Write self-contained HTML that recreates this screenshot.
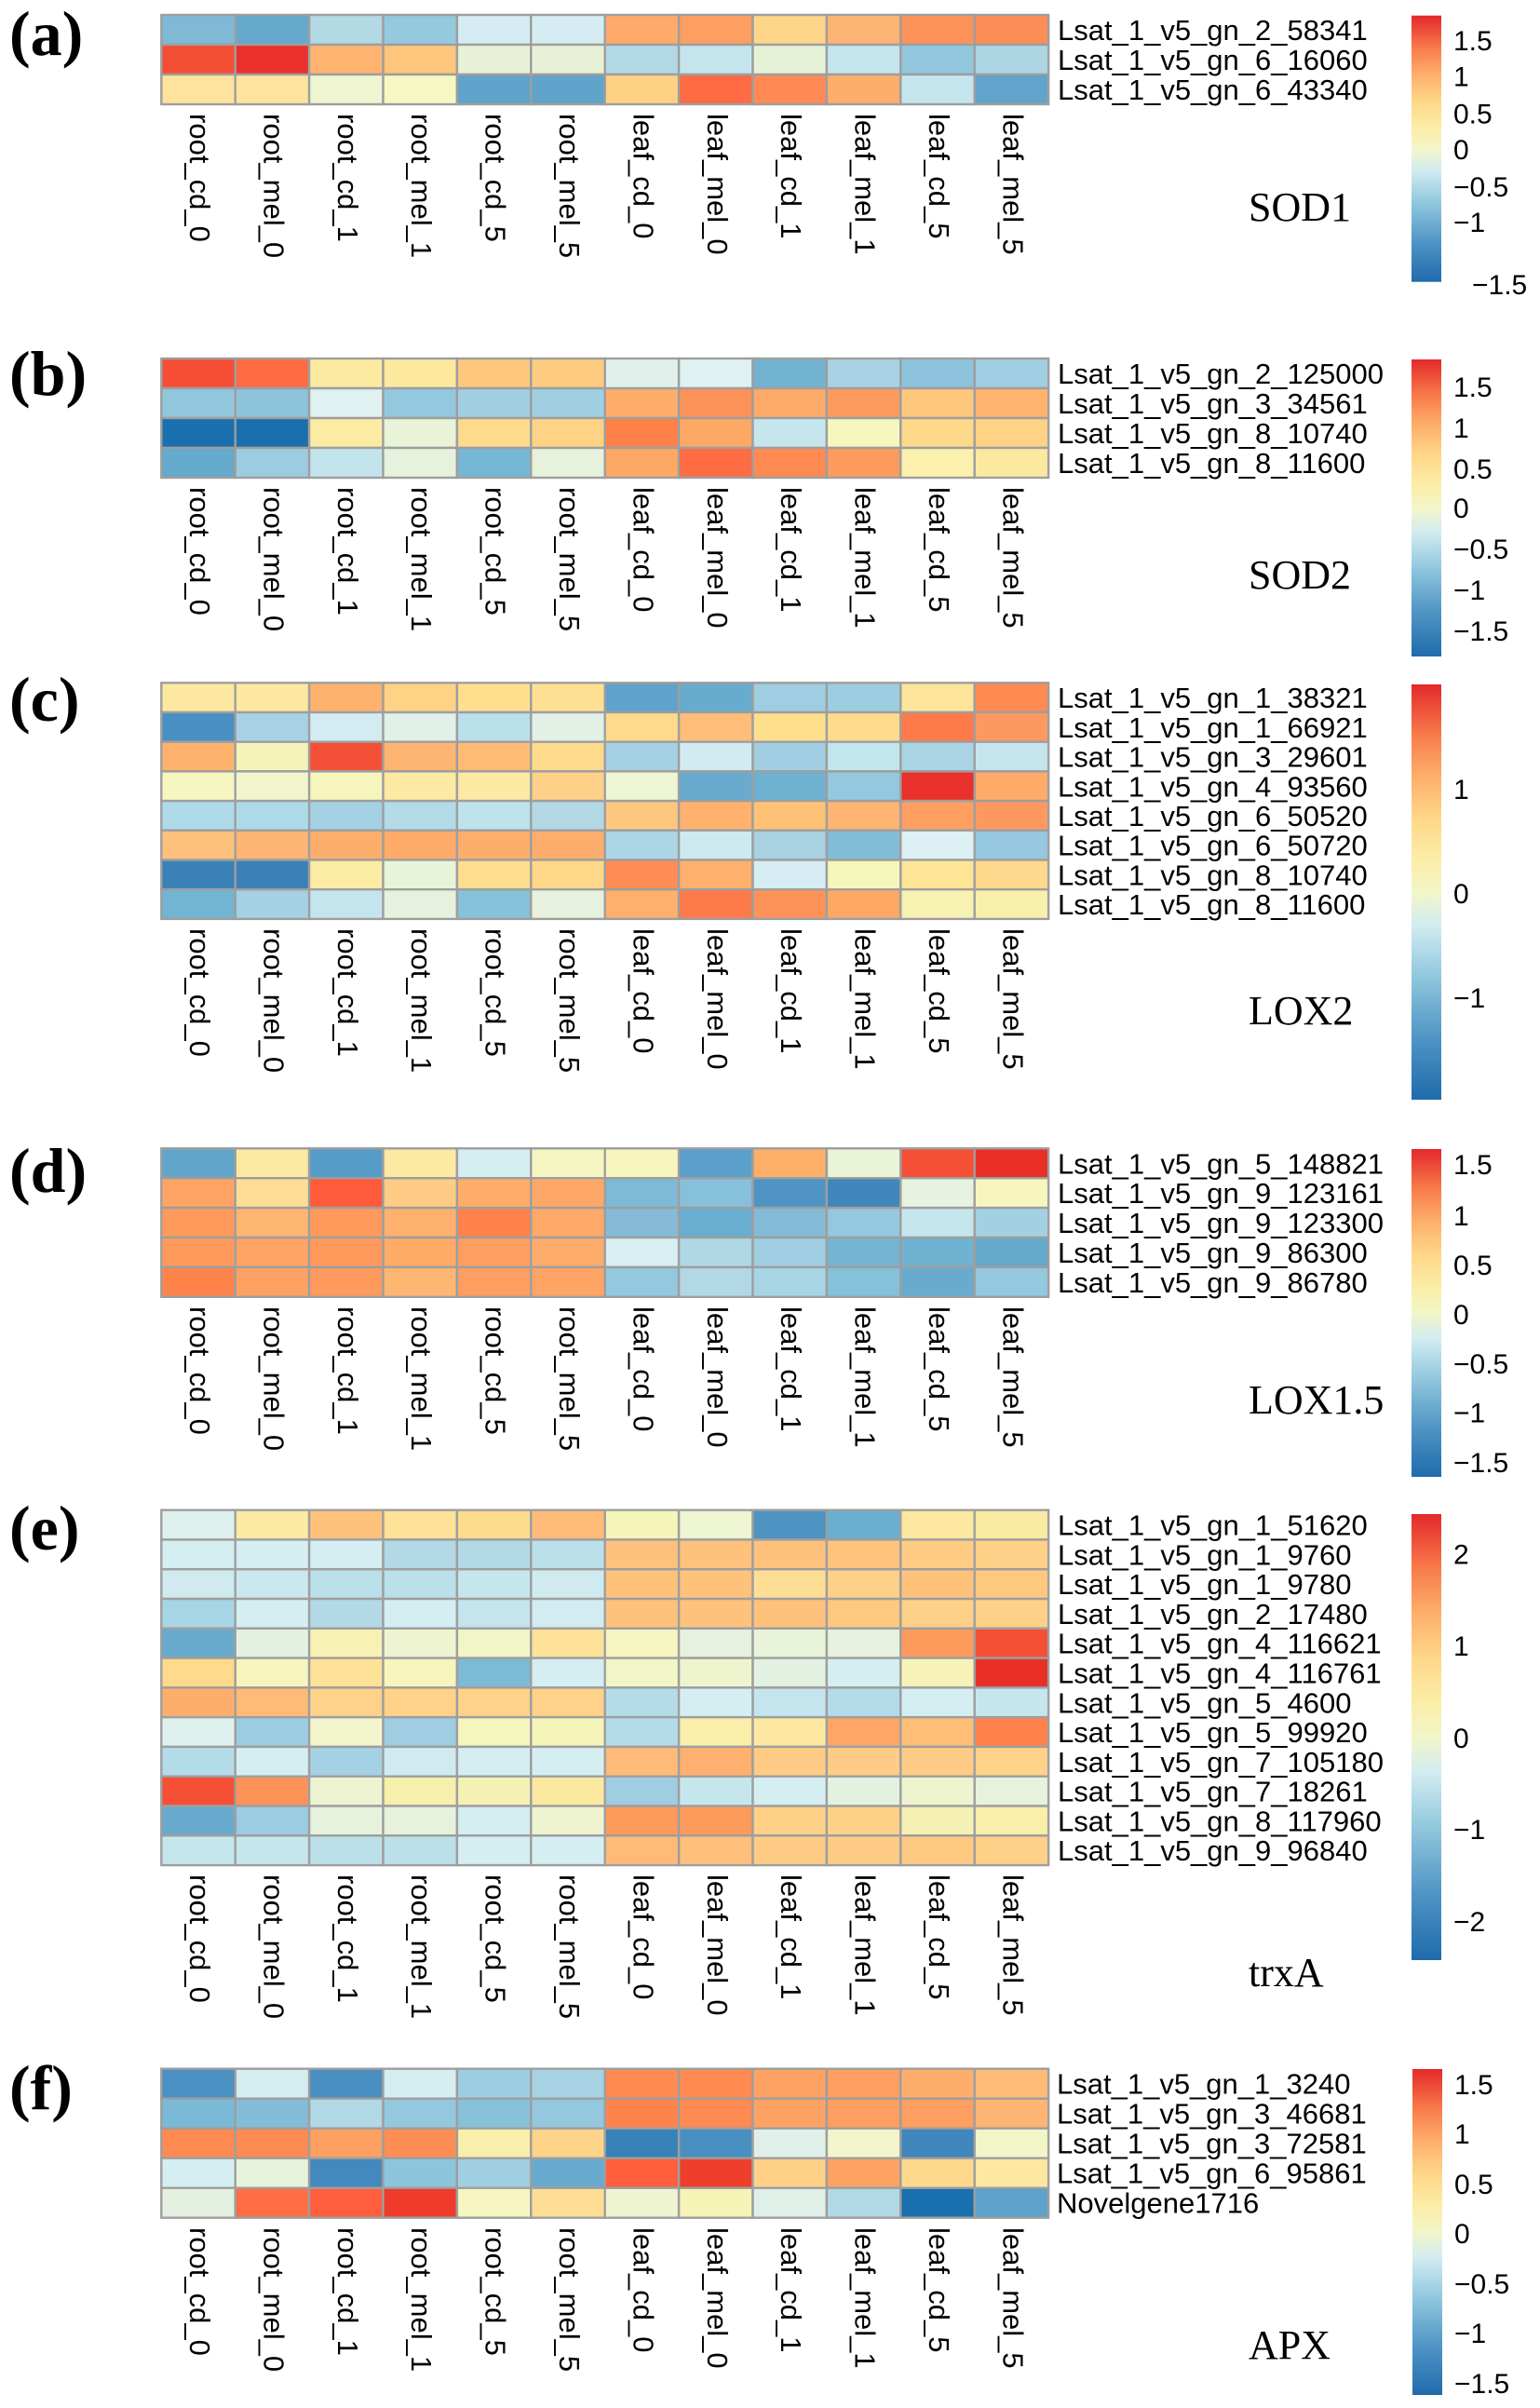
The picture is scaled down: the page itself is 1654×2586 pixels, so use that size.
<!DOCTYPE html>
<html><head><meta charset="utf-8"><style>
html,body{margin:0;padding:0;background:#fff;}
svg{display:block;}
.rl{font-family:"Liberation Sans",Arial,sans-serif;font-size:31px;fill:#000;}
.cl{font-family:"Liberation Sans",Arial,sans-serif;font-size:31px;fill:#000;}
.tk{font-family:"Liberation Sans",Arial,sans-serif;font-size:30px;fill:#000;}
.ti{font-family:"Liberation Serif","Times New Roman",serif;font-size:44px;fill:#000;}
.pl{font-family:"Liberation Serif","Times New Roman",serif;font-size:68px;font-weight:bold;fill:#000;}
</style></head><body>
<svg width="1654" height="2586" viewBox="0 0 1654 2586" xmlns="http://www.w3.org/2000/svg">
<defs>
<linearGradient id="cb" x1="0" y1="1" x2="0" y2="0">
<stop offset="0" stop-color="#1F6BAC"/>
<stop offset="0.15" stop-color="#4F95C5"/>
<stop offset="0.30" stop-color="#92C8DE"/>
<stop offset="0.42" stop-color="#D2ECF1"/>
<stop offset="0.50" stop-color="#F3F6C8"/>
<stop offset="0.58" stop-color="#FBEDA6"/>
<stop offset="0.68" stop-color="#FED688"/>
<stop offset="0.78" stop-color="#FDAE6B"/>
<stop offset="0.88" stop-color="#F87A4B"/>
<stop offset="1" stop-color="#E3292A"/>
</linearGradient>
</defs>
<rect width="1654" height="2586" fill="#fff"/>

<!-- panel labels -->
<text class="pl" x="10" y="59">(a)</text>
<text class="pl" x="10" y="424">(b)</text>
<text class="pl" x="10" y="774">(c)</text>
<text class="pl" x="10" y="1280">(d)</text>
<text class="pl" x="10" y="1664">(e)</text>
<text class="pl" x="10" y="2265">(f)</text>

<!-- ===== Panel a ===== -->
<g transform="translate(173.3,16)" stroke="#9E9E9E" stroke-width="2.4">
<g>
<rect x="0" width="79.4" height="32" fill="#7FB9D6"/><rect x="79.4" width="79.4" height="32" fill="#65A9CC"/><rect x="158.8" width="79.4" height="32" fill="#B3D9E5"/><rect x="238.2" width="79.4" height="32" fill="#94C9DE"/><rect x="317.6" width="79.4" height="32" fill="#D5EDF2"/><rect x="397" width="79.4" height="32" fill="#D5EDF2"/><rect x="476.4" width="79.4" height="32" fill="#FEAA6A"/><rect x="555.8" width="79.4" height="32" fill="#FD9F60"/><rect x="635.2" width="79.4" height="32" fill="#FED68A"/><rect x="714.6" width="79.4" height="32" fill="#FDB473"/><rect x="794" width="79.4" height="32" fill="#FD9259"/><rect x="873.4" width="79.4" height="32" fill="#FD8D57"/>
</g>
<g transform="translate(0,32)">
<rect x="0" width="79.4" height="32" fill="#F44E35"/><rect x="79.4" width="79.4" height="32" fill="#E9302A"/><rect x="158.8" width="79.4" height="32" fill="#FEB470"/><rect x="238.2" width="79.4" height="32" fill="#FEC57C"/><rect x="317.6" width="79.4" height="32" fill="#E8F1D6"/><rect x="397" width="79.4" height="32" fill="#E8F1D6"/><rect x="476.4" width="79.4" height="32" fill="#B2D8E5"/><rect x="555.8" width="79.4" height="32" fill="#C5E5EE"/><rect x="635.2" width="79.4" height="32" fill="#E6F2D6"/><rect x="714.6" width="79.4" height="32" fill="#C5E5EE"/><rect x="794" width="79.4" height="32" fill="#91C6DD"/><rect x="873.4" width="79.4" height="32" fill="#ADD6E5"/>
</g>
<g transform="translate(0,64)">
<rect x="0" width="79.4" height="32" fill="#FDE39C"/><rect x="79.4" width="79.4" height="32" fill="#FDE39C"/><rect x="158.8" width="79.4" height="32" fill="#EEF5D0"/><rect x="238.2" width="79.4" height="32" fill="#F7F7C2"/><rect x="317.6" width="79.4" height="32" fill="#60A3CB"/><rect x="397" width="79.4" height="32" fill="#60A3CB"/><rect x="476.4" width="79.4" height="32" fill="#FED185"/><rect x="555.8" width="79.4" height="32" fill="#FF6B42"/><rect x="635.2" width="79.4" height="32" fill="#FF8A55"/><rect x="714.6" width="79.4" height="32" fill="#FDAD6C"/><rect x="794" width="79.4" height="32" fill="#C5E5EE"/><rect x="873.4" width="79.4" height="32" fill="#62A4CC"/>
</g>
</g>
<g class="rl">
<text x="1136" y="43">Lsat_1_v5_gn_2_58341</text>
<text x="1136" y="75">Lsat_1_v5_gn_6_16060</text>
<text x="1136" y="107">Lsat_1_v5_gn_6_43340</text>
</g>
<g class="cl">
<text transform="translate(204,122) rotate(90)">root_cd_0</text>
<text transform="translate(283.4,122) rotate(90)">root_mel_0</text>
<text transform="translate(362.8,122) rotate(90)">root_cd_1</text>
<text transform="translate(442.2,122) rotate(90)">root_mel_1</text>
<text transform="translate(521.6,122) rotate(90)">root_cd_5</text>
<text transform="translate(601,122) rotate(90)">root_mel_5</text>
<text transform="translate(680.4,122) rotate(90)">leaf_cd_0</text>
<text transform="translate(759.8,122) rotate(90)">leaf_mel_0</text>
<text transform="translate(839.2,122) rotate(90)">leaf_cd_1</text>
<text transform="translate(918.6,122) rotate(90)">leaf_mel_1</text>
<text transform="translate(998,122) rotate(90)">leaf_cd_5</text>
<text transform="translate(1077.4,122) rotate(90)">leaf_mel_5</text>
</g>
<text class="ti" x="1341" y="237">SOD1</text>
<rect x="1516" y="16.7" width="32" height="286" fill="url(#cb)"/>
<g class="tk">
<text x="1561" y="54">1.5</text>
<text x="1561" y="92.5">1</text>
<text x="1561" y="132.5">0.5</text>
<text x="1561" y="171">0</text>
<text x="1561" y="211">−0.5</text>
<text x="1561" y="249">−1</text>
<text x="1581" y="316">−1.5</text>
</g>

<!-- ===== Panel b ===== -->
<g transform="translate(173.3,385)" stroke="#9E9E9E" stroke-width="2.4">
<g>
<rect x="0" width="79.4" height="32" fill="#F54E35"/><rect x="79.4" width="79.4" height="32" fill="#FF6B42"/><rect x="158.8" width="79.4" height="32" fill="#FCEAA0"/><rect x="238.2" width="79.4" height="32" fill="#FCE99E"/><rect x="317.6" width="79.4" height="32" fill="#FEC77E"/><rect x="397" width="79.4" height="32" fill="#FECC80"/><rect x="476.4" width="79.4" height="32" fill="#E2F0EB"/><rect x="555.8" width="79.4" height="32" fill="#DFF1F1"/><rect x="635.2" width="79.4" height="32" fill="#72B3D2"/><rect x="714.6" width="79.4" height="32" fill="#A8D3E4"/><rect x="794" width="79.4" height="32" fill="#8DC3DC"/><rect x="873.4" width="79.4" height="32" fill="#A0CEE2"/>
</g>
<g transform="translate(0,32)">
<rect x="0" width="79.4" height="32" fill="#91C7DD"/><rect x="79.4" width="79.4" height="32" fill="#8DC4DC"/><rect x="158.8" width="79.4" height="32" fill="#DFF1F1"/><rect x="238.2" width="79.4" height="32" fill="#93C9DE"/><rect x="317.6" width="79.4" height="32" fill="#A1CFE2"/><rect x="397" width="79.4" height="32" fill="#A1CFE2"/><rect x="476.4" width="79.4" height="32" fill="#FEAD6A"/><rect x="555.8" width="79.4" height="32" fill="#FD9259"/><rect x="635.2" width="79.4" height="32" fill="#FEAA68"/><rect x="714.6" width="79.4" height="32" fill="#FD9B5E"/><rect x="794" width="79.4" height="32" fill="#FEC77E"/><rect x="873.4" width="79.4" height="32" fill="#FEB46F"/>
</g>
<g transform="translate(0,64)">
<rect x="0" width="79.4" height="32" fill="#1A6FAE"/><rect x="79.4" width="79.4" height="32" fill="#1A6FAE"/><rect x="158.8" width="79.4" height="32" fill="#FCEBA2"/><rect x="238.2" width="79.4" height="32" fill="#E8F3D8"/><rect x="317.6" width="79.4" height="32" fill="#FDDA8C"/><rect x="397" width="79.4" height="32" fill="#FED385"/><rect x="476.4" width="79.4" height="32" fill="#FF8148"/><rect x="555.8" width="79.4" height="32" fill="#FEA865"/><rect x="635.2" width="79.4" height="32" fill="#C6E6EE"/><rect x="714.6" width="79.4" height="32" fill="#F5F7BE"/><rect x="794" width="79.4" height="32" fill="#FDD889"/><rect x="873.4" width="79.4" height="32" fill="#FED385"/>
</g>
<g transform="translate(0,96)">
<rect x="0" width="79.4" height="32" fill="#65A9CC"/><rect x="79.4" width="79.4" height="32" fill="#9DCCE1"/><rect x="158.8" width="79.4" height="32" fill="#C3E4ED"/><rect x="238.2" width="79.4" height="32" fill="#E6F2DC"/><rect x="317.6" width="79.4" height="32" fill="#75B7D4"/><rect x="397" width="79.4" height="32" fill="#E6F2DC"/><rect x="476.4" width="79.4" height="32" fill="#FEA865"/><rect x="555.8" width="79.4" height="32" fill="#FF6B42"/><rect x="635.2" width="79.4" height="32" fill="#FF8B52"/><rect x="714.6" width="79.4" height="32" fill="#FD9B5E"/><rect x="794" width="79.4" height="32" fill="#FBF0AE"/><rect x="873.4" width="79.4" height="32" fill="#FBE9A0"/>
</g>
</g>
<g class="rl">
<text x="1136" y="412">Lsat_1_v5_gn_2_125000</text>
<text x="1136" y="444">Lsat_1_v5_gn_3_34561</text>
<text x="1136" y="476">Lsat_1_v5_gn_8_10740</text>
<text x="1136" y="508">Lsat_1_v5_gn_8_11600</text>
</g>
<g class="cl">
<text transform="translate(204,523) rotate(90)">root_cd_0</text>
<text transform="translate(283.4,523) rotate(90)">root_mel_0</text>
<text transform="translate(362.8,523) rotate(90)">root_cd_1</text>
<text transform="translate(442.2,523) rotate(90)">root_mel_1</text>
<text transform="translate(521.6,523) rotate(90)">root_cd_5</text>
<text transform="translate(601,523) rotate(90)">root_mel_5</text>
<text transform="translate(680.4,523) rotate(90)">leaf_cd_0</text>
<text transform="translate(759.8,523) rotate(90)">leaf_mel_0</text>
<text transform="translate(839.2,523) rotate(90)">leaf_cd_1</text>
<text transform="translate(918.6,523) rotate(90)">leaf_mel_1</text>
<text transform="translate(998,523) rotate(90)">leaf_cd_5</text>
<text transform="translate(1077.4,523) rotate(90)">leaf_mel_5</text>
</g>
<text class="ti" x="1341" y="632">SOD2</text>
<rect x="1516" y="386" width="32" height="319" fill="url(#cb)"/>
<g class="tk">
<text x="1561" y="426">1.5</text>
<text x="1561" y="470">1</text>
<text x="1561" y="514">0.5</text>
<text x="1561" y="556">0</text>
<text x="1561" y="600">−0.5</text>
<text x="1561" y="644">−1</text>
<text x="1561" y="688">−1.5</text>
</g>

<!-- ===== Panel c ===== -->
<g transform="translate(173.3,733.3)" stroke="#9E9E9E" stroke-width="2.4">
<g>
<rect x="0" width="79.4" height="31.7" fill="#FCE8A0"/><rect x="79.4" width="79.4" height="31.7" fill="#FCE8A0"/><rect x="158.8" width="79.4" height="31.7" fill="#FEB26E"/><rect x="238.2" width="79.4" height="31.7" fill="#FED385"/><rect x="317.6" width="79.4" height="31.7" fill="#FDDF8E"/><rect x="397" width="79.4" height="31.7" fill="#FDE092"/><rect x="476.4" width="79.4" height="31.7" fill="#5FA3CB"/><rect x="555.8" width="79.4" height="31.7" fill="#67ABCE"/><rect x="635.2" width="79.4" height="31.7" fill="#9FCDE2"/><rect x="714.6" width="79.4" height="31.7" fill="#9DCDE1"/><rect x="794" width="79.4" height="31.7" fill="#FCE59A"/><rect x="873.4" width="79.4" height="31.7" fill="#FF8B52"/>
</g>
<g transform="translate(0,31.7)">
<rect x="0" width="79.4" height="31.7" fill="#4A8FC1"/><rect x="79.4" width="79.4" height="31.7" fill="#A7D2E5"/><rect x="158.8" width="79.4" height="31.7" fill="#D3ECF1"/><rect x="238.2" width="79.4" height="31.7" fill="#E1F0E8"/><rect x="317.6" width="79.4" height="31.7" fill="#BAE0EB"/><rect x="397" width="79.4" height="31.7" fill="#E2F0E6"/><rect x="476.4" width="79.4" height="31.7" fill="#FEDA8C"/><rect x="555.8" width="79.4" height="31.7" fill="#FEBE79"/><rect x="635.2" width="79.4" height="31.7" fill="#FDDF8E"/><rect x="714.6" width="79.4" height="31.7" fill="#FEDA8C"/><rect x="794" width="79.4" height="31.7" fill="#FF7A4A"/><rect x="873.4" width="79.4" height="31.7" fill="#FD9960"/>
</g>
<g transform="translate(0,63.4)">
<rect x="0" width="79.4" height="31.7" fill="#FEB26E"/><rect x="79.4" width="79.4" height="31.7" fill="#F5F4B8"/><rect x="158.8" width="79.4" height="31.7" fill="#F55037"/><rect x="238.2" width="79.4" height="31.7" fill="#FEB472"/><rect x="317.6" width="79.4" height="31.7" fill="#FEBB76"/><rect x="397" width="79.4" height="31.7" fill="#FEDA8C"/><rect x="476.4" width="79.4" height="31.7" fill="#A5D1E4"/><rect x="555.8" width="79.4" height="31.7" fill="#D0EBF1"/><rect x="635.2" width="79.4" height="31.7" fill="#A1CEE2"/><rect x="714.6" width="79.4" height="31.7" fill="#C3E5EE"/><rect x="794" width="79.4" height="31.7" fill="#ABD4E5"/><rect x="873.4" width="79.4" height="31.7" fill="#C5E5EE"/>
</g>
<g transform="translate(0,95.1)">
<rect x="0" width="79.4" height="31.7" fill="#F5F6C0"/><rect x="79.4" width="79.4" height="31.7" fill="#F2F5CC"/><rect x="158.8" width="79.4" height="31.7" fill="#F5F5BC"/><rect x="238.2" width="79.4" height="31.7" fill="#FCEAA2"/><rect x="317.6" width="79.4" height="31.7" fill="#FCE9A2"/><rect x="397" width="79.4" height="31.7" fill="#FED088"/><rect x="476.4" width="79.4" height="31.7" fill="#EEF5D5"/><rect x="555.8" width="79.4" height="31.7" fill="#68ABCE"/><rect x="635.2" width="79.4" height="31.7" fill="#6EB1D1"/><rect x="714.6" width="79.4" height="31.7" fill="#93C8DE"/><rect x="794" width="79.4" height="31.7" fill="#E9302A"/><rect x="873.4" width="79.4" height="31.7" fill="#FEAA68"/>
</g>
<g transform="translate(0,126.8)">
<rect x="0" width="79.4" height="31.7" fill="#AEDAE7"/><rect x="79.4" width="79.4" height="31.7" fill="#AEDAE7"/><rect x="158.8" width="79.4" height="31.7" fill="#A4D1E4"/><rect x="238.2" width="79.4" height="31.7" fill="#B3DAE7"/><rect x="317.6" width="79.4" height="31.7" fill="#BEE3ED"/><rect x="397" width="79.4" height="31.7" fill="#B3D8E4"/><rect x="476.4" width="79.4" height="31.7" fill="#FEC77F"/><rect x="555.8" width="79.4" height="31.7" fill="#FEB26E"/><rect x="635.2" width="79.4" height="31.7" fill="#FEC277"/><rect x="714.6" width="79.4" height="31.7" fill="#FEB472"/><rect x="794" width="79.4" height="31.7" fill="#FE9E61"/><rect x="873.4" width="79.4" height="31.7" fill="#FD9960"/>
</g>
<g transform="translate(0,158.5)">
<rect x="0" width="79.4" height="31.7" fill="#FEC17C"/><rect x="79.4" width="79.4" height="31.7" fill="#FEB472"/><rect x="158.8" width="79.4" height="31.7" fill="#FEAE6C"/><rect x="238.2" width="79.4" height="31.7" fill="#FEAA68"/><rect x="317.6" width="79.4" height="31.7" fill="#FEAE6C"/><rect x="397" width="79.4" height="31.7" fill="#FEAE6C"/><rect x="476.4" width="79.4" height="31.7" fill="#ACD6E5"/><rect x="555.8" width="79.4" height="31.7" fill="#CCEAF0"/><rect x="635.2" width="79.4" height="31.7" fill="#A8D1E1"/><rect x="714.6" width="79.4" height="31.7" fill="#83BCD7"/><rect x="794" width="79.4" height="31.7" fill="#DDF0F3"/><rect x="873.4" width="79.4" height="31.7" fill="#95C8DE"/>
</g>
<g transform="translate(0,190.2)">
<rect x="0" width="79.4" height="31.7" fill="#3A81B7"/><rect x="79.4" width="79.4" height="31.7" fill="#3A81B7"/><rect x="158.8" width="79.4" height="31.7" fill="#FCEBA3"/><rect x="238.2" width="79.4" height="31.7" fill="#E8F3D8"/><rect x="317.6" width="79.4" height="31.7" fill="#FDDD8E"/><rect x="397" width="79.4" height="31.7" fill="#FED888"/><rect x="476.4" width="79.4" height="31.7" fill="#FF8D55"/><rect x="555.8" width="79.4" height="31.7" fill="#FEB06C"/><rect x="635.2" width="79.4" height="31.7" fill="#D5EDF3"/><rect x="714.6" width="79.4" height="31.7" fill="#F5F6B9"/><rect x="794" width="79.4" height="31.7" fill="#FDE595"/><rect x="873.4" width="79.4" height="31.7" fill="#FED88C"/>
</g>
<g transform="translate(0,221.9)">
<rect x="0" width="79.4" height="31.7" fill="#72B5D3"/><rect x="79.4" width="79.4" height="31.7" fill="#A4D1E4"/><rect x="158.8" width="79.4" height="31.7" fill="#C5E5EE"/><rect x="238.2" width="79.4" height="31.7" fill="#E6F2DD"/><rect x="317.6" width="79.4" height="31.7" fill="#87C1DA"/><rect x="397" width="79.4" height="31.7" fill="#E6F2DD"/><rect x="476.4" width="79.4" height="31.7" fill="#FEB06C"/><rect x="555.8" width="79.4" height="31.7" fill="#FF7A4A"/><rect x="635.2" width="79.4" height="31.7" fill="#FE9359"/><rect x="714.6" width="79.4" height="31.7" fill="#FEA865"/><rect x="794" width="79.4" height="31.7" fill="#F7F1B2"/><rect x="873.4" width="79.4" height="31.7" fill="#F9EFAD"/>
</g>
</g>
<g class="rl">
<text x="1136" y="760.2">Lsat_1_v5_gn_1_38321</text>
<text x="1136" y="791.9">Lsat_1_v5_gn_1_66921</text>
<text x="1136" y="823.6">Lsat_1_v5_gn_3_29601</text>
<text x="1136" y="855.3">Lsat_1_v5_gn_4_93560</text>
<text x="1136" y="887">Lsat_1_v5_gn_6_50520</text>
<text x="1136" y="918.7">Lsat_1_v5_gn_6_50720</text>
<text x="1136" y="950.4">Lsat_1_v5_gn_8_10740</text>
<text x="1136" y="982.1">Lsat_1_v5_gn_8_11600</text>
</g>
<g class="cl">
<text transform="translate(204,997) rotate(90)">root_cd_0</text>
<text transform="translate(283.4,997) rotate(90)">root_mel_0</text>
<text transform="translate(362.8,997) rotate(90)">root_cd_1</text>
<text transform="translate(442.2,997) rotate(90)">root_mel_1</text>
<text transform="translate(521.6,997) rotate(90)">root_cd_5</text>
<text transform="translate(601,997) rotate(90)">root_mel_5</text>
<text transform="translate(680.4,997) rotate(90)">leaf_cd_0</text>
<text transform="translate(759.8,997) rotate(90)">leaf_mel_0</text>
<text transform="translate(839.2,997) rotate(90)">leaf_cd_1</text>
<text transform="translate(918.6,997) rotate(90)">leaf_mel_1</text>
<text transform="translate(998,997) rotate(90)">leaf_cd_5</text>
<text transform="translate(1077.4,997) rotate(90)">leaf_mel_5</text>
</g>
<text class="ti" x="1341" y="1100">LOX2</text>
<rect x="1516" y="735" width="32" height="446" fill="url(#cb)"/>
<g class="tk">
<text x="1561" y="858">1</text>
<text x="1561" y="970">0</text>
<text x="1561" y="1082">−1</text>
</g>

<!-- ===== Panel d ===== -->
<g transform="translate(173.3,1233.3)" stroke="#9E9E9E" stroke-width="2.4">
<g>
<rect x="0" width="79.4" height="31.9" fill="#62A5CB"/><rect x="79.4" width="79.4" height="31.9" fill="#FCE9A2"/><rect x="158.8" width="79.4" height="31.9" fill="#559DC8"/><rect x="238.2" width="79.4" height="31.9" fill="#FCEAA2"/><rect x="317.6" width="79.4" height="31.9" fill="#D5EEF2"/><rect x="397" width="79.4" height="31.9" fill="#F5F5C2"/><rect x="476.4" width="79.4" height="31.9" fill="#F7F5BE"/><rect x="555.8" width="79.4" height="31.9" fill="#5BA0CA"/><rect x="635.2" width="79.4" height="31.9" fill="#FEAF6A"/><rect x="714.6" width="79.4" height="31.9" fill="#EAF4D6"/><rect x="794" width="79.4" height="31.9" fill="#F54F35"/><rect x="873.4" width="79.4" height="31.9" fill="#E83027"/>
</g>
<g transform="translate(0,31.9)">
<rect x="0" width="79.4" height="31.9" fill="#FEA465"/><rect x="79.4" width="79.4" height="31.9" fill="#FEDE94"/><rect x="158.8" width="79.4" height="31.9" fill="#FF5A3A"/><rect x="238.2" width="79.4" height="31.9" fill="#FECC84"/><rect x="317.6" width="79.4" height="31.9" fill="#FEAD6A"/><rect x="397" width="79.4" height="31.9" fill="#FEA868"/><rect x="476.4" width="79.4" height="31.9" fill="#7EB9D6"/><rect x="555.8" width="79.4" height="31.9" fill="#86C0DA"/><rect x="635.2" width="79.4" height="31.9" fill="#4F94C4"/><rect x="714.6" width="79.4" height="31.9" fill="#3F87BC"/><rect x="794" width="79.4" height="31.9" fill="#E7F2E0"/><rect x="873.4" width="79.4" height="31.9" fill="#F7F6BE"/>
</g>
<g transform="translate(0,63.8)">
<rect x="0" width="79.4" height="31.9" fill="#FF9A5C"/><rect x="79.4" width="79.4" height="31.9" fill="#FEB673"/><rect x="158.8" width="79.4" height="31.9" fill="#FF9A5C"/><rect x="238.2" width="79.4" height="31.9" fill="#FEB06E"/><rect x="317.6" width="79.4" height="31.9" fill="#FF824C"/><rect x="397" width="79.4" height="31.9" fill="#FEA968"/><rect x="476.4" width="79.4" height="31.9" fill="#86BBD8"/><rect x="555.8" width="79.4" height="31.9" fill="#69AED0"/><rect x="635.2" width="79.4" height="31.9" fill="#83BAD7"/><rect x="714.6" width="79.4" height="31.9" fill="#93C8DE"/><rect x="794" width="79.4" height="31.9" fill="#C6E6EE"/><rect x="873.4" width="79.4" height="31.9" fill="#A4D0E4"/>
</g>
<g transform="translate(0,95.7)">
<rect x="0" width="79.4" height="31.9" fill="#FF9A5C"/><rect x="79.4" width="79.4" height="31.9" fill="#FEA465"/><rect x="158.8" width="79.4" height="31.9" fill="#FF9A5C"/><rect x="238.2" width="79.4" height="31.9" fill="#FEAB68"/><rect x="317.6" width="79.4" height="31.9" fill="#FE9E60"/><rect x="397" width="79.4" height="31.9" fill="#FEAC6A"/><rect x="476.4" width="79.4" height="31.9" fill="#D8EEF2"/><rect x="555.8" width="79.4" height="31.9" fill="#B0D7E5"/><rect x="635.2" width="79.4" height="31.9" fill="#9FCDE2"/><rect x="714.6" width="79.4" height="31.9" fill="#74B4D2"/><rect x="794" width="79.4" height="31.9" fill="#70B2D1"/><rect x="873.4" width="79.4" height="31.9" fill="#65A9CC"/>
</g>
<g transform="translate(0,127.6)">
<rect x="0" width="79.4" height="31.9" fill="#FF844C"/><rect x="79.4" width="79.4" height="31.9" fill="#FEA263"/><rect x="158.8" width="79.4" height="31.9" fill="#FE9A5E"/><rect x="238.2" width="79.4" height="31.9" fill="#FEB673"/><rect x="317.6" width="79.4" height="31.9" fill="#FE9E60"/><rect x="397" width="79.4" height="31.9" fill="#FEA465"/><rect x="476.4" width="79.4" height="31.9" fill="#93C8DE"/><rect x="555.8" width="79.4" height="31.9" fill="#B2D8E6"/><rect x="635.2" width="79.4" height="31.9" fill="#A8D5E5"/><rect x="714.6" width="79.4" height="31.9" fill="#86C1DA"/><rect x="794" width="79.4" height="31.9" fill="#69ABCE"/><rect x="873.4" width="79.4" height="31.9" fill="#93C8DE"/>
</g>
</g>
<g class="rl">
<text x="1136" y="1260.3">Lsat_1_v5_gn_5_148821</text>
<text x="1136" y="1292.2">Lsat_1_v5_gn_9_123161</text>
<text x="1136" y="1324.1">Lsat_1_v5_gn_9_123300</text>
<text x="1136" y="1356">Lsat_1_v5_gn_9_86300</text>
<text x="1136" y="1387.9">Lsat_1_v5_gn_9_86780</text>
</g>
<g class="cl">
<text transform="translate(204,1403) rotate(90)">root_cd_0</text>
<text transform="translate(283.4,1403) rotate(90)">root_mel_0</text>
<text transform="translate(362.8,1403) rotate(90)">root_cd_1</text>
<text transform="translate(442.2,1403) rotate(90)">root_mel_1</text>
<text transform="translate(521.6,1403) rotate(90)">root_cd_5</text>
<text transform="translate(601,1403) rotate(90)">root_mel_5</text>
<text transform="translate(680.4,1403) rotate(90)">leaf_cd_0</text>
<text transform="translate(759.8,1403) rotate(90)">leaf_mel_0</text>
<text transform="translate(839.2,1403) rotate(90)">leaf_cd_1</text>
<text transform="translate(918.6,1403) rotate(90)">leaf_mel_1</text>
<text transform="translate(998,1403) rotate(90)">leaf_cd_5</text>
<text transform="translate(1077.4,1403) rotate(90)">leaf_mel_5</text>
</g>
<text class="ti" x="1341" y="1518">LOX1.5</text>
<rect x="1516" y="1234" width="32" height="352" fill="url(#cb)"/>
<g class="tk">
<text x="1561" y="1261">1.5</text>
<text x="1561" y="1316">1</text>
<text x="1561" y="1369">0.5</text>
<text x="1561" y="1422">0</text>
<text x="1561" y="1475">−0.5</text>
<text x="1561" y="1527.5">−1</text>
<text x="1561" y="1581">−1.5</text>
</g>

<!-- ===== Panel e ===== -->
<g transform="translate(173.3,1621.7)" stroke="#9E9E9E" stroke-width="2.4">
<g>
<rect x="0" width="79.4" height="31.78" fill="#DFF1EE"/><rect x="79.4" width="79.4" height="31.78" fill="#FCE9A2"/><rect x="158.8" width="79.4" height="31.78" fill="#FEC27C"/><rect x="238.2" width="79.4" height="31.78" fill="#FDE298"/><rect x="317.6" width="79.4" height="31.78" fill="#FDDC8E"/><rect x="397" width="79.4" height="31.78" fill="#FEBC78"/><rect x="476.4" width="79.4" height="31.78" fill="#F5F5BA"/><rect x="555.8" width="79.4" height="31.78" fill="#EEF5D2"/><rect x="635.2" width="79.4" height="31.78" fill="#4D94C3"/><rect x="714.6" width="79.4" height="31.78" fill="#6AAFD0"/><rect x="794" width="79.4" height="31.78" fill="#FCE8A0"/><rect x="873.4" width="79.4" height="31.78" fill="#FBEAA2"/>
</g>
<g transform="translate(0,31.78)">
<rect x="0" width="79.4" height="31.78" fill="#D5EEF1"/><rect x="79.4" width="79.4" height="31.78" fill="#D5EEF1"/><rect x="158.8" width="79.4" height="31.78" fill="#D5EEF1"/><rect x="238.2" width="79.4" height="31.78" fill="#B2D9E5"/><rect x="317.6" width="79.4" height="31.78" fill="#B2D9E5"/><rect x="397" width="79.4" height="31.78" fill="#BCE0EA"/><rect x="476.4" width="79.4" height="31.78" fill="#FEC27C"/><rect x="555.8" width="79.4" height="31.78" fill="#FEC27C"/><rect x="635.2" width="79.4" height="31.78" fill="#FEC27C"/><rect x="714.6" width="79.4" height="31.78" fill="#FEC47E"/><rect x="794" width="79.4" height="31.78" fill="#FECC84"/><rect x="873.4" width="79.4" height="31.78" fill="#FED088"/>
</g>
<g transform="translate(0,63.56)">
<rect x="0" width="79.4" height="31.78" fill="#CFEBF0"/><rect x="79.4" width="79.4" height="31.78" fill="#CAE8EF"/><rect x="158.8" width="79.4" height="31.78" fill="#BAE0EA"/><rect x="238.2" width="79.4" height="31.78" fill="#BAE0EA"/><rect x="317.6" width="79.4" height="31.78" fill="#C6E6EE"/><rect x="397" width="79.4" height="31.78" fill="#CFEBF0"/><rect x="476.4" width="79.4" height="31.78" fill="#FEC27C"/><rect x="555.8" width="79.4" height="31.78" fill="#FEC27C"/><rect x="635.2" width="79.4" height="31.78" fill="#FEDE94"/><rect x="714.6" width="79.4" height="31.78" fill="#FED088"/><rect x="794" width="79.4" height="31.78" fill="#FEC27C"/><rect x="873.4" width="79.4" height="31.78" fill="#FEC87E"/>
</g>
<g transform="translate(0,95.34)">
<rect x="0" width="79.4" height="31.78" fill="#A8D5E5"/><rect x="79.4" width="79.4" height="31.78" fill="#D5EEF2"/><rect x="158.8" width="79.4" height="31.78" fill="#B2D9E5"/><rect x="238.2" width="79.4" height="31.78" fill="#D5EEF2"/><rect x="317.6" width="79.4" height="31.78" fill="#C4E4EE"/><rect x="397" width="79.4" height="31.78" fill="#D2ECF1"/><rect x="476.4" width="79.4" height="31.78" fill="#FEC27C"/><rect x="555.8" width="79.4" height="31.78" fill="#FEC27C"/><rect x="635.2" width="79.4" height="31.78" fill="#FEC27C"/><rect x="714.6" width="79.4" height="31.78" fill="#FEC87E"/><rect x="794" width="79.4" height="31.78" fill="#FED088"/><rect x="873.4" width="79.4" height="31.78" fill="#FED088"/>
</g>
<g transform="translate(0,127.12)">
<rect x="0" width="79.4" height="31.78" fill="#69ABCE"/><rect x="79.4" width="79.4" height="31.78" fill="#E3F1E2"/><rect x="158.8" width="79.4" height="31.78" fill="#F7F1B4"/><rect x="238.2" width="79.4" height="31.78" fill="#EEF4D2"/><rect x="317.6" width="79.4" height="31.78" fill="#F2F5C6"/><rect x="397" width="79.4" height="31.78" fill="#FDE298"/><rect x="476.4" width="79.4" height="31.78" fill="#F5F5C0"/><rect x="555.8" width="79.4" height="31.78" fill="#E6F2DE"/><rect x="635.2" width="79.4" height="31.78" fill="#E8F3DA"/><rect x="714.6" width="79.4" height="31.78" fill="#E6F2DE"/><rect x="794" width="79.4" height="31.78" fill="#FE9A5C"/><rect x="873.4" width="79.4" height="31.78" fill="#F54F35"/>
</g>
<g transform="translate(0,158.9)">
<rect x="0" width="79.4" height="31.78" fill="#FEDA8C"/><rect x="79.4" width="79.4" height="31.78" fill="#F5F5BC"/><rect x="158.8" width="79.4" height="31.78" fill="#FDE298"/><rect x="238.2" width="79.4" height="31.78" fill="#F5F5BC"/><rect x="317.6" width="79.4" height="31.78" fill="#7DBAD6"/><rect x="397" width="79.4" height="31.78" fill="#D5EEF2"/><rect x="476.4" width="79.4" height="31.78" fill="#F2F5C6"/><rect x="555.8" width="79.4" height="31.78" fill="#EEF4CE"/><rect x="635.2" width="79.4" height="31.78" fill="#E3F1E2"/><rect x="714.6" width="79.4" height="31.78" fill="#D5EEF2"/><rect x="794" width="79.4" height="31.78" fill="#F7F3B8"/><rect x="873.4" width="79.4" height="31.78" fill="#E83027"/>
</g>
<g transform="translate(0,190.68)">
<rect x="0" width="79.4" height="31.78" fill="#FEAE6C"/><rect x="79.4" width="79.4" height="31.78" fill="#FEBA76"/><rect x="158.8" width="79.4" height="31.78" fill="#FED288"/><rect x="238.2" width="79.4" height="31.78" fill="#FED288"/><rect x="317.6" width="79.4" height="31.78" fill="#FED288"/><rect x="397" width="79.4" height="31.78" fill="#FED288"/><rect x="476.4" width="79.4" height="31.78" fill="#B4DBE8"/><rect x="555.8" width="79.4" height="31.78" fill="#D5EEF2"/><rect x="635.2" width="79.4" height="31.78" fill="#C4E4EE"/><rect x="714.6" width="79.4" height="31.78" fill="#B4DBE8"/><rect x="794" width="79.4" height="31.78" fill="#D5EEF2"/><rect x="873.4" width="79.4" height="31.78" fill="#C6E6EE"/>
</g>
<g transform="translate(0,222.46)">
<rect x="0" width="79.4" height="31.78" fill="#DFF1EE"/><rect x="79.4" width="79.4" height="31.78" fill="#9BCCE2"/><rect x="158.8" width="79.4" height="31.78" fill="#F2F5CC"/><rect x="238.2" width="79.4" height="31.78" fill="#9FCDE2"/><rect x="317.6" width="79.4" height="31.78" fill="#F5F5BE"/><rect x="397" width="79.4" height="31.78" fill="#F5F5BA"/><rect x="476.4" width="79.4" height="31.78" fill="#B4DBE8"/><rect x="555.8" width="79.4" height="31.78" fill="#F9EEAA"/><rect x="635.2" width="79.4" height="31.78" fill="#FCE8A0"/><rect x="714.6" width="79.4" height="31.78" fill="#FEA667"/><rect x="794" width="79.4" height="31.78" fill="#FEBE78"/><rect x="873.4" width="79.4" height="31.78" fill="#FF824C"/>
</g>
<g transform="translate(0,254.24)">
<rect x="0" width="79.4" height="31.78" fill="#B4DBE8"/><rect x="79.4" width="79.4" height="31.78" fill="#D5EEF2"/><rect x="158.8" width="79.4" height="31.78" fill="#A4D1E4"/><rect x="238.2" width="79.4" height="31.78" fill="#CFEBF0"/><rect x="317.6" width="79.4" height="31.78" fill="#D5EEF2"/><rect x="397" width="79.4" height="31.78" fill="#D5EEF2"/><rect x="476.4" width="79.4" height="31.78" fill="#FEBA76"/><rect x="555.8" width="79.4" height="31.78" fill="#FEB06E"/><rect x="635.2" width="79.4" height="31.78" fill="#FECC84"/><rect x="714.6" width="79.4" height="31.78" fill="#FECC84"/><rect x="794" width="79.4" height="31.78" fill="#FECC84"/><rect x="873.4" width="79.4" height="31.78" fill="#FED288"/>
</g>
<g transform="translate(0,286.02)">
<rect x="0" width="79.4" height="31.78" fill="#F54F35"/><rect x="79.4" width="79.4" height="31.78" fill="#FE9358"/><rect x="158.8" width="79.4" height="31.78" fill="#EEF4D2"/><rect x="238.2" width="79.4" height="31.78" fill="#F7EFAC"/><rect x="317.6" width="79.4" height="31.78" fill="#F5F1B4"/><rect x="397" width="79.4" height="31.78" fill="#FBE9A0"/><rect x="476.4" width="79.4" height="31.78" fill="#A0CDE2"/><rect x="555.8" width="79.4" height="31.78" fill="#C6E6EE"/><rect x="635.2" width="79.4" height="31.78" fill="#D5EEF2"/><rect x="714.6" width="79.4" height="31.78" fill="#E3F1E0"/><rect x="794" width="79.4" height="31.78" fill="#EEF4CE"/><rect x="873.4" width="79.4" height="31.78" fill="#E6F2DC"/>
</g>
<g transform="translate(0,317.8)">
<rect x="0" width="79.4" height="31.78" fill="#69ABCE"/><rect x="79.4" width="79.4" height="31.78" fill="#9BCCE2"/><rect x="158.8" width="79.4" height="31.78" fill="#E6F2DC"/><rect x="238.2" width="79.4" height="31.78" fill="#E6F2DC"/><rect x="317.6" width="79.4" height="31.78" fill="#D5EEF2"/><rect x="397" width="79.4" height="31.78" fill="#EEF4D0"/><rect x="476.4" width="79.4" height="31.78" fill="#FE9A5C"/><rect x="555.8" width="79.4" height="31.78" fill="#FE9A5C"/><rect x="635.2" width="79.4" height="31.78" fill="#FED088"/><rect x="714.6" width="79.4" height="31.78" fill="#FED088"/><rect x="794" width="79.4" height="31.78" fill="#F5F1B4"/><rect x="873.4" width="79.4" height="31.78" fill="#F9EEAA"/>
</g>
<g transform="translate(0,349.58)">
<rect x="0" width="79.4" height="31.78" fill="#C6E6EE"/><rect x="79.4" width="79.4" height="31.78" fill="#C6E6EE"/><rect x="158.8" width="79.4" height="31.78" fill="#BCE0EA"/><rect x="238.2" width="79.4" height="31.78" fill="#BCE0EA"/><rect x="317.6" width="79.4" height="31.78" fill="#D5EEF2"/><rect x="397" width="79.4" height="31.78" fill="#D5EEF2"/><rect x="476.4" width="79.4" height="31.78" fill="#FEBA76"/><rect x="555.8" width="79.4" height="31.78" fill="#FEC07A"/><rect x="635.2" width="79.4" height="31.78" fill="#FECC84"/><rect x="714.6" width="79.4" height="31.78" fill="#FECC84"/><rect x="794" width="79.4" height="31.78" fill="#FECA82"/><rect x="873.4" width="79.4" height="31.78" fill="#FED088"/>
</g>
</g>
<g class="rl">
<text x="1136" y="1648.6">Lsat_1_v5_gn_1_51620</text>
<text x="1136" y="1680.4">Lsat_1_v5_gn_1_9760</text>
<text x="1136" y="1712.1">Lsat_1_v5_gn_1_9780</text>
<text x="1136" y="1743.9">Lsat_1_v5_gn_2_17480</text>
<text x="1136" y="1775.7">Lsat_1_v5_gn_4_116621</text>
<text x="1136" y="1807.5">Lsat_1_v5_gn_4_116761</text>
<text x="1136" y="1839.3">Lsat_1_v5_gn_5_4600</text>
<text x="1136" y="1871.1">Lsat_1_v5_gn_5_99920</text>
<text x="1136" y="1902.9">Lsat_1_v5_gn_7_105180</text>
<text x="1136" y="1934.6">Lsat_1_v5_gn_7_18261</text>
<text x="1136" y="1966.4">Lsat_1_v5_gn_8_117960</text>
<text x="1136" y="1998.2">Lsat_1_v5_gn_9_96840</text>
</g>
<g class="cl">
<text transform="translate(204,2013) rotate(90)">root_cd_0</text>
<text transform="translate(283.4,2013) rotate(90)">root_mel_0</text>
<text transform="translate(362.8,2013) rotate(90)">root_cd_1</text>
<text transform="translate(442.2,2013) rotate(90)">root_mel_1</text>
<text transform="translate(521.6,2013) rotate(90)">root_cd_5</text>
<text transform="translate(601,2013) rotate(90)">root_mel_5</text>
<text transform="translate(680.4,2013) rotate(90)">leaf_cd_0</text>
<text transform="translate(759.8,2013) rotate(90)">leaf_mel_0</text>
<text transform="translate(839.2,2013) rotate(90)">leaf_cd_1</text>
<text transform="translate(918.6,2013) rotate(90)">leaf_mel_1</text>
<text transform="translate(998,2013) rotate(90)">leaf_cd_5</text>
<text transform="translate(1077.4,2013) rotate(90)">leaf_mel_5</text>
</g>
<text class="ti" x="1341" y="2133">trxA</text>
<rect x="1516" y="1626" width="32" height="479" fill="url(#cb)"/>
<g class="tk">
<text x="1561" y="1679.5">2</text>
<text x="1561" y="1778">1</text>
<text x="1561" y="1877">0</text>
<text x="1561" y="1975">−1</text>
<text x="1561" y="2074">−2</text>
</g>

<!-- ===== Panel f ===== -->
<g transform="translate(173.3,2221.7)" stroke="#9E9E9E" stroke-width="2.4">
<g>
<rect x="0" width="79.4" height="32" fill="#4A90C2"/><rect x="79.4" width="79.4" height="32" fill="#D5EEF2"/><rect x="158.8" width="79.4" height="32" fill="#4A8FC1"/><rect x="238.2" width="79.4" height="32" fill="#D5EEF2"/><rect x="317.6" width="79.4" height="32" fill="#9DCDE1"/><rect x="397" width="79.4" height="32" fill="#A6D2E4"/><rect x="476.4" width="79.4" height="32" fill="#FF8A52"/><rect x="555.8" width="79.4" height="32" fill="#FF8A52"/><rect x="635.2" width="79.4" height="32" fill="#FEA263"/><rect x="714.6" width="79.4" height="32" fill="#FE9E60"/><rect x="794" width="79.4" height="32" fill="#FEAE6C"/><rect x="873.4" width="79.4" height="32" fill="#FEBC78"/>
</g>
<g transform="translate(0,32)">
<rect x="0" width="79.4" height="32" fill="#7BBAD6"/><rect x="79.4" width="79.4" height="32" fill="#83BCD8"/><rect x="158.8" width="79.4" height="32" fill="#B0D8E5"/><rect x="238.2" width="79.4" height="32" fill="#93C8DE"/><rect x="317.6" width="79.4" height="32" fill="#86C1DA"/><rect x="397" width="79.4" height="32" fill="#93C8DE"/><rect x="476.4" width="79.4" height="32" fill="#FF844C"/><rect x="555.8" width="79.4" height="32" fill="#FF8A52"/><rect x="635.2" width="79.4" height="32" fill="#FEA263"/><rect x="714.6" width="79.4" height="32" fill="#FE9E60"/><rect x="794" width="79.4" height="32" fill="#FE9E60"/><rect x="873.4" width="79.4" height="32" fill="#FEB473"/>
</g>
<g transform="translate(0,64)">
<rect x="0" width="79.4" height="32" fill="#FF8A52"/><rect x="79.4" width="79.4" height="32" fill="#FF8A52"/><rect x="158.8" width="79.4" height="32" fill="#FEA061"/><rect x="238.2" width="79.4" height="32" fill="#FF8E55"/><rect x="317.6" width="79.4" height="32" fill="#F9EEAA"/><rect x="397" width="79.4" height="32" fill="#FED48A"/><rect x="476.4" width="79.4" height="32" fill="#3782B8"/><rect x="555.8" width="79.4" height="32" fill="#4A8FC1"/><rect x="635.2" width="79.4" height="32" fill="#DFF0E8"/><rect x="714.6" width="79.4" height="32" fill="#F2F5CC"/><rect x="794" width="79.4" height="32" fill="#3F87BC"/><rect x="873.4" width="79.4" height="32" fill="#F2F5C8"/>
</g>
<g transform="translate(0,96)">
<rect x="0" width="79.4" height="32" fill="#D5EEF2"/><rect x="79.4" width="79.4" height="32" fill="#E6F2DC"/><rect x="158.8" width="79.4" height="32" fill="#4389BE"/><rect x="238.2" width="79.4" height="32" fill="#8DC5DC"/><rect x="317.6" width="79.4" height="32" fill="#A1CFE2"/><rect x="397" width="79.4" height="32" fill="#69ABCE"/><rect x="476.4" width="79.4" height="32" fill="#FF5E3C"/><rect x="555.8" width="79.4" height="32" fill="#EE3F2C"/><rect x="635.2" width="79.4" height="32" fill="#FED088"/><rect x="714.6" width="79.4" height="32" fill="#FEA263"/><rect x="794" width="79.4" height="32" fill="#FED88C"/><rect x="873.4" width="79.4" height="32" fill="#FCE8A0"/>
</g>
<g transform="translate(0,128)">
<rect x="0" width="79.4" height="32" fill="#E3F0E0"/><rect x="79.4" width="79.4" height="32" fill="#FF6E45"/><rect x="158.8" width="79.4" height="32" fill="#FF5E3C"/><rect x="238.2" width="79.4" height="32" fill="#EE3B2A"/><rect x="317.6" width="79.4" height="32" fill="#F7F5C0"/><rect x="397" width="79.4" height="32" fill="#FEDE94"/><rect x="476.4" width="79.4" height="32" fill="#EEF4D2"/><rect x="555.8" width="79.4" height="32" fill="#F5F4B6"/><rect x="635.2" width="79.4" height="32" fill="#DFF0E8"/><rect x="714.6" width="79.4" height="32" fill="#B0D8E5"/><rect x="794" width="79.4" height="32" fill="#1A6FAE"/><rect x="873.4" width="79.4" height="32" fill="#5FA2CB"/>
</g>
</g>
<g class="rl">
<text x="1135" y="2248.7">Lsat_1_v5_gn_1_3240</text>
<text x="1135" y="2280.7">Lsat_1_v5_gn_3_46681</text>
<text x="1135" y="2312.7">Lsat_1_v5_gn_3_72581</text>
<text x="1135" y="2344.7">Lsat_1_v5_gn_6_95861</text>
<text x="1135" y="2376.7">Novelgene1716</text>
</g>
<g class="cl">
<text transform="translate(204,2392) rotate(90)">root_cd_0</text>
<text transform="translate(283.4,2392) rotate(90)">root_mel_0</text>
<text transform="translate(362.8,2392) rotate(90)">root_cd_1</text>
<text transform="translate(442.2,2392) rotate(90)">root_mel_1</text>
<text transform="translate(521.6,2392) rotate(90)">root_cd_5</text>
<text transform="translate(601,2392) rotate(90)">root_mel_5</text>
<text transform="translate(680.4,2392) rotate(90)">leaf_cd_0</text>
<text transform="translate(759.8,2392) rotate(90)">leaf_mel_0</text>
<text transform="translate(839.2,2392) rotate(90)">leaf_cd_1</text>
<text transform="translate(918.6,2392) rotate(90)">leaf_mel_1</text>
<text transform="translate(998,2392) rotate(90)">leaf_cd_5</text>
<text transform="translate(1077.4,2392) rotate(90)">leaf_mel_5</text>
</g>
<text class="ti" x="1341" y="2533">APX</text>
<rect x="1517" y="2222" width="32" height="350" fill="url(#cb)"/>
<g class="tk">
<text x="1562" y="2249">1.5</text>
<text x="1562" y="2302">1</text>
<text x="1562" y="2356">0.5</text>
<text x="1562" y="2409">0</text>
<text x="1562" y="2463">−0.5</text>
<text x="1562" y="2516">−1</text>
<text x="1562" y="2570">−1.5</text>
</g>
</svg>
</body></html>
